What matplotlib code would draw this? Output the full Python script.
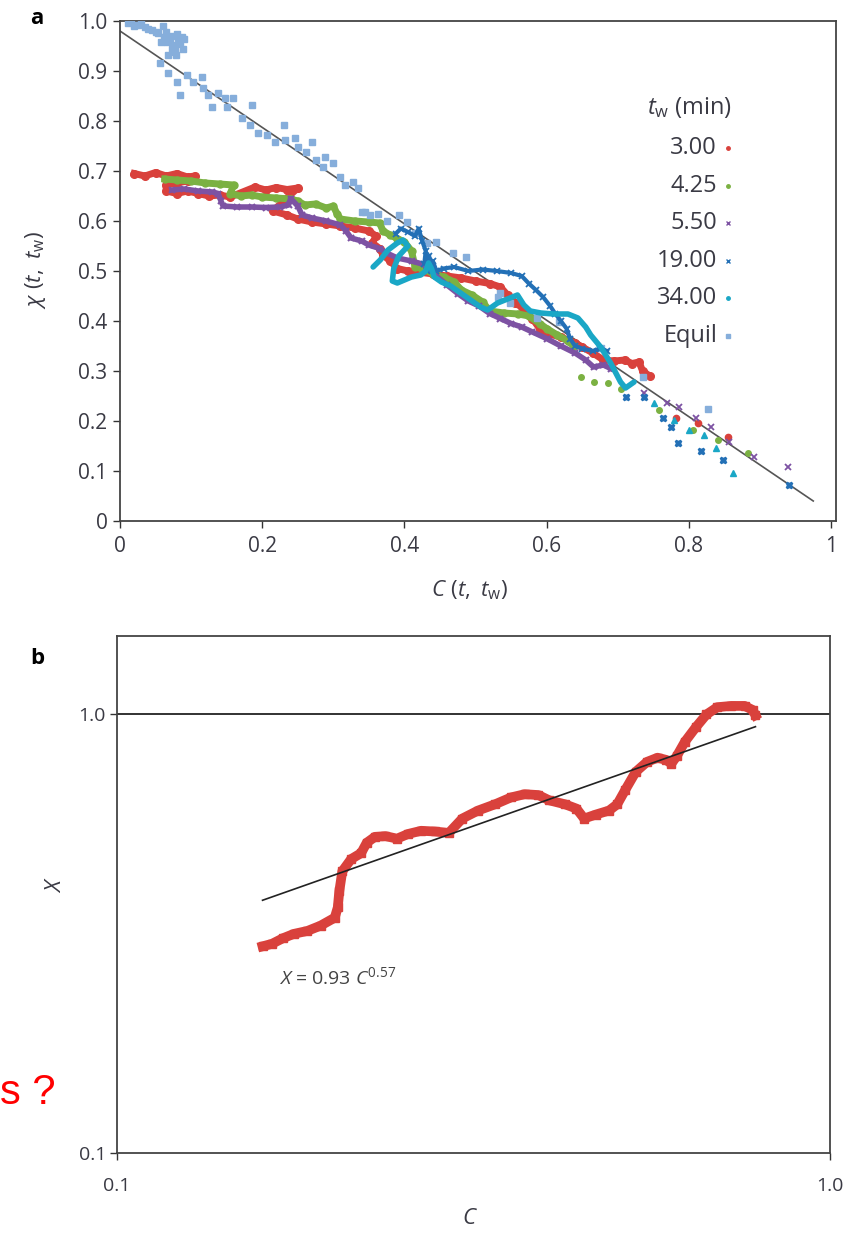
import numpy as np
import matplotlib
matplotlib.use('Agg')
import matplotlib.pyplot as plt

plt.rcParams['font.family'] = ['Open Sans', 'DejaVu Sans']
plt.rcParams['mathtext.fontset'] = 'custom'
plt.rcParams['mathtext.it'] = 'Open Sans:italic'
plt.rcParams['mathtext.rm'] = 'Open Sans'

# ---- panel a data: C(t,tw), chi(t,tw) ----
line_C = [0.0, 0.975]
line_chi = [0.98, 0.04]

red_C = [0.020, 0.035, 0.050, 0.065, 0.080, 0.095, 0.105, 0.095, 0.080, 0.065, 0.065, 0.080, 0.095,
         0.110, 0.125, 0.140, 0.155, 0.190, 0.205, 0.220, 0.235, 0.250, 0.215, 0.235, 0.250, 0.270,
         0.290, 0.310, 0.330, 0.350, 0.360, 0.355, 0.365, 0.370, 0.380, 0.390, 0.405, 0.420, 0.440,
         0.460, 0.480, 0.500, 0.520, 0.535, 0.545, 0.555, 0.565, 0.580, 0.590, 0.600, 0.620, 0.640,
         0.650, 0.665, 0.680, 0.695, 0.710, 0.720, 0.730, 0.735, 0.745]
red_chi = [0.695, 0.690, 0.697, 0.690, 0.695, 0.688, 0.690, 0.680, 0.676, 0.672, 0.660, 0.655, 0.660,
           0.655, 0.650, 0.652, 0.648, 0.668, 0.662, 0.667, 0.663, 0.666, 0.620, 0.612, 0.604, 0.598,
           0.594, 0.590, 0.586, 0.580, 0.570, 0.556, 0.545, 0.532, 0.520, 0.505, 0.500, 0.498, 0.494,
           0.490, 0.486, 0.480, 0.475, 0.468, 0.452, 0.436, 0.428, 0.405, 0.385, 0.375, 0.368, 0.356,
           0.348, 0.336, 0.322, 0.320, 0.322, 0.315, 0.318, 0.300, 0.290]
red_tail_C = [0.782, 0.813, 0.855]
red_tail_chi = [0.206, 0.196, 0.168]

green_C = [0.063, 0.080, 0.100, 0.120, 0.140, 0.160, 0.155, 0.170, 0.185, 0.200, 0.220, 0.240, 0.250,
           0.260, 0.275, 0.290, 0.300, 0.305, 0.310, 0.330, 0.350, 0.365, 0.370, 0.380, 0.390, 0.400,
           0.410, 0.415, 0.425, 0.440, 0.455, 0.470, 0.480, 0.495, 0.510, 0.520, 0.540, 0.560, 0.575,
           0.590, 0.600, 0.615, 0.630, 0.638]
green_chi = [0.684, 0.682, 0.680, 0.676, 0.674, 0.672, 0.655, 0.650, 0.652, 0.648, 0.646, 0.644, 0.640,
             0.632, 0.634, 0.626, 0.630, 0.615, 0.604, 0.600, 0.598, 0.596, 0.580, 0.572, 0.565, 0.558,
             0.540, 0.508, 0.505, 0.495, 0.488, 0.478, 0.462, 0.452, 0.438, 0.420, 0.416, 0.414, 0.410,
             0.395, 0.385, 0.372, 0.360, 0.350]
green_tail_C = [0.648, 0.666, 0.686, 0.704, 0.758, 0.806, 0.841, 0.883]
green_tail_chi = [0.288, 0.278, 0.276, 0.264, 0.222, 0.182, 0.162, 0.136]

purple_C = [0.073, 0.090, 0.110, 0.130, 0.138, 0.142, 0.145, 0.165, 0.185, 0.205, 0.225, 0.237, 0.240,
            0.250, 0.256, 0.270, 0.290, 0.310, 0.318, 0.325, 0.340, 0.350, 0.365, 0.375, 0.390, 0.410,
            0.430, 0.445, 0.460, 0.475, 0.490, 0.505, 0.520, 0.535, 0.550, 0.565, 0.580, 0.600, 0.620,
            0.640, 0.655, 0.666, 0.680, 0.690]
purple_chi = [0.662, 0.664, 0.660, 0.658, 0.655, 0.640, 0.630, 0.628, 0.628, 0.627, 0.628, 0.632, 0.645,
              0.630, 0.612, 0.606, 0.600, 0.592, 0.580, 0.566, 0.560, 0.552, 0.545, 0.536, 0.526, 0.520,
              0.512, 0.490, 0.472, 0.455, 0.440, 0.430, 0.415, 0.405, 0.395, 0.388, 0.378, 0.365, 0.350,
              0.336, 0.322, 0.308, 0.312, 0.305]
purple_tail_C = [0.737, 0.770, 0.786, 0.810, 0.831, 0.856, 0.892, 0.939]
purple_tail_chi = [0.256, 0.236, 0.228, 0.206, 0.188, 0.158, 0.128, 0.108]

blue_C = [0.388, 0.395, 0.405, 0.415, 0.420, 0.425, 0.430, 0.428, 0.435, 0.432, 0.440, 0.445, 0.455,
          0.470, 0.490, 0.510, 0.530, 0.550, 0.565, 0.575, 0.585, 0.595, 0.605, 0.612, 0.620, 0.628,
          0.633, 0.640, 0.650, 0.665, 0.675, 0.685]
blue_chi = [0.575, 0.585, 0.578, 0.570, 0.585, 0.560, 0.540, 0.515, 0.530, 0.500, 0.520, 0.500, 0.505,
            0.508, 0.500, 0.503, 0.500, 0.496, 0.490, 0.475, 0.462, 0.448, 0.430, 0.415, 0.400, 0.385,
            0.365, 0.350, 0.345, 0.340, 0.345, 0.340]
blue_tail_C = [0.711, 0.737, 0.763, 0.775, 0.785, 0.817, 0.848, 0.941]
blue_tail_chi = [0.248, 0.248, 0.206, 0.188, 0.156, 0.140, 0.122, 0.072]

teal_C = [0.356, 0.366, 0.377, 0.390, 0.398, 0.405, 0.392, 0.385, 0.383, 0.390, 0.400, 0.410, 0.423,
          0.430, 0.434, 0.438, 0.442, 0.452, 0.465, 0.480, 0.495, 0.507, 0.517, 0.531, 0.545, 0.559,
          0.568, 0.577, 0.592, 0.610, 0.630, 0.644, 0.655, 0.662, 0.676, 0.690, 0.704, 0.711, 0.723]
teal_chi = [0.508, 0.522, 0.542, 0.556, 0.562, 0.550, 0.530, 0.505, 0.480, 0.476, 0.482, 0.488, 0.492,
            0.500, 0.516, 0.505, 0.488, 0.478, 0.470, 0.455, 0.440, 0.428, 0.422, 0.436, 0.444, 0.452,
            0.432, 0.420, 0.416, 0.414, 0.414, 0.406, 0.388, 0.372, 0.348, 0.316, 0.278, 0.266, 0.278]
teal_tail_C = [0.751, 0.779, 0.800, 0.821, 0.838, 0.862]
teal_tail_chi = [0.236, 0.202, 0.182, 0.172, 0.146, 0.096]

equil_C = [0.011, 0.015, 0.025, 0.030, 0.035, 0.045, 0.054, 0.060, 0.063, 0.070, 0.075, 0.077, 0.078,
           0.080, 0.082, 0.085, 0.087, 0.090, 0.068, 0.056, 0.068, 0.080, 0.085, 0.094, 0.103, 0.115,
           0.117, 0.124, 0.130, 0.138, 0.148, 0.159, 0.151, 0.172, 0.186, 0.183, 0.194, 0.207, 0.218,
           0.230, 0.232, 0.246, 0.251, 0.261, 0.270, 0.275, 0.285, 0.289, 0.300, 0.310, 0.317, 0.327,
           0.335, 0.341, 0.345, 0.352, 0.363, 0.376, 0.392, 0.403, 0.415, 0.432, 0.444, 0.469, 0.486,
           0.532, 0.535, 0.549, 0.587, 0.617, 0.676, 0.735, 0.827,
           0.020, 0.040, 0.050, 0.065, 0.072, 0.083, 0.088, 0.066, 0.073, 0.079, 0.062, 0.058]
equil_chi = [0.996, 0.998, 0.992, 0.996, 0.988, 0.982, 0.976, 0.990, 0.968, 0.962, 0.952, 0.938, 0.945,
             0.975, 0.966, 0.955, 0.968, 0.965, 0.932, 0.916, 0.896, 0.878, 0.852, 0.892, 0.878, 0.888,
             0.866, 0.852, 0.828, 0.856, 0.846, 0.846, 0.828, 0.806, 0.832, 0.792, 0.776, 0.772, 0.758,
             0.792, 0.762, 0.766, 0.748, 0.738, 0.758, 0.722, 0.708, 0.728, 0.716, 0.688, 0.672, 0.678,
             0.666, 0.618, 0.618, 0.612, 0.614, 0.600, 0.612, 0.598, 0.576, 0.556, 0.558, 0.536, 0.528,
             0.448, 0.456, 0.436, 0.406, 0.398, 0.346, 0.288, 0.224,
             0.990, 0.985, 0.978, 0.978, 0.970, 0.958, 0.945, 0.958, 0.944, 0.932, 0.968, 0.958]

legend_labels = ['3.00', '4.25', '5.50', '19.00', '34.00', 'Equil']

# ---- panel b data: X vs C ----
b_C = [0.160, 0.165, 0.171, 0.177, 0.185, 0.193, 0.202, 0.204, 0.205, 0.207, 0.213, 0.220, 0.224,
       0.230, 0.238, 0.247, 0.256, 0.267, 0.279, 0.292, 0.305, 0.321, 0.339, 0.357, 0.373, 0.390,
       0.404, 0.425, 0.441, 0.452, 0.469, 0.490, 0.503, 0.516, 0.534, 0.554, 0.573, 0.589, 0.599,
       0.610, 0.626, 0.648, 0.671, 0.695, 0.727, 0.759, 0.779, 0.786]
b_X = [0.296, 0.300, 0.309, 0.316, 0.321, 0.330, 0.344, 0.363, 0.395, 0.439, 0.468, 0.483, 0.510,
       0.526, 0.528, 0.521, 0.534, 0.543, 0.541, 0.537, 0.579, 0.604, 0.624, 0.647, 0.658, 0.655,
       0.637, 0.624, 0.610, 0.579, 0.591, 0.604, 0.624, 0.672, 0.740, 0.780, 0.797, 0.788, 0.772,
       0.805, 0.867, 0.934, 1.000, 1.039, 1.046, 1.046, 1.024, 0.996]
fit_C = [0.160, 0.786]
fit_X = [0.377, 0.938]

red = '#d9413c'
green = '#7bb142'
purple = '#7d52a3'
blue = '#2370b6'
teal = '#1aa7c6'
light = '#86aedb'
tick_col = '#3a3a44'

W, H = 850, 1234
fig = plt.figure(figsize=(8.5, 12.34), dpi=100)

# ================= panel a =================
ax = fig.add_axes([120 / W, 1 - 521 / H, 716 / W, 500 / H])
ax.plot(line_C, line_chi, color='#555555', lw=1.2, zorder=1)
ax.plot(red_C, red_chi, '-o', color=red, lw=5, ms=5.5, zorder=2)
ax.plot(red_tail_C, red_tail_chi, 'o', color=red, ms=4.5, zorder=2)
ax.plot(green_C, green_chi, '-o', color=green, lw=5, ms=5, zorder=3)
ax.plot(green_tail_C, green_tail_chi, 'o', color=green, ms=4, zorder=3)
ax.plot(purple_C, purple_chi, '-x', color=purple, lw=4, ms=4.5, mew=1.5, zorder=4)
ax.plot(purple_tail_C, purple_tail_chi, 'x', color=purple, ms=4.5, mew=1.3, zorder=4)
ax.plot(equil_C, equil_chi, 's', color=light, ms=4, zorder=5)
ax.plot(blue_C, blue_chi, '-x', color=blue, lw=3, ms=4, mew=1.3, zorder=6)
ax.plot(blue_tail_C, blue_tail_chi, 'X', color=blue, ms=5, zorder=6)
ax.plot(teal_C, teal_chi, '-', color=teal, lw=4, zorder=7, solid_capstyle='round',
        solid_joinstyle='round')
ax.plot(teal_tail_C, teal_tail_chi, '^', color=teal, ms=4, zorder=7)

ax.set_xlim(0, 1.007)
ax.set_ylim(0, 1.0)
ax.set_xticks([0, 0.2, 0.4, 0.6, 0.8, 1.0])
ax.set_xticklabels(['0', '0.2', '0.4', '0.6', '0.8', '1'])
ax.set_yticks(np.arange(0, 11) / 10)
ax.set_yticklabels(['0'] + ['%.1f' % (i / 10) for i in range(1, 11)])
ax.tick_params(direction='out', length=5, width=1, labelsize=15, colors='#333333',
               labelcolor=tick_col, pad=4)
ax.tick_params(axis='x', pad=6)
for s in ax.spines.values():
    s.set_color('#444444')
    s.set_linewidth(1.3)

# legend as text column
cols = [red, green, purple, blue, teal, light]
marks = ['o', 'o', 'x', 'x', 'o', 's']
ys = [0.746, 0.670, 0.596, 0.520, 0.446, 0.370]
ax.text(0.736, 0.828, r'$t_\mathrm{w}$ (min)', transform=ax.transAxes, fontsize=17,
        color=tick_col, ha='left', va='center')
for lab, c, m, yy in zip(legend_labels, cols, marks, ys):
    ax.text(0.834, yy, lab, transform=ax.transAxes, fontsize=17, color=tick_col,
            ha='right', va='center')
    ax.plot([0.849], [yy], m, color=c, ms=2.5, mew=1, transform=ax.transAxes, clip_on=False)

fig.text(30 / W, 1 - 18 / H, 'a', fontsize=16, fontweight='bold', va='center', ha='left')
fig.text(35 / W, 1 - 270 / H, r'$\chi\ (t,\ t_\mathrm{w})$', rotation=90, fontsize=16,
         color=tick_col, ha='center', va='center')
fig.text(470 / W, 1 - 590 / H, r'$C\ (t,\ t_\mathrm{w})$', fontsize=16,
         color=tick_col, ha='center', va='center')

# ================= panel b =================
bx = fig.add_axes([117 / W, 1 - 1153 / H, 713 / W, 517 / H])
bx.set_xscale('log')
bx.set_yscale('log')
bx.axhline(1.0, color='#222222', lw=1.3, zorder=1)
bx.plot(fit_C, fit_X, color='#222222', lw=1.2, zorder=3)
bx.plot(b_C, b_X, '-s', color=red, lw=7, ms=6, zorder=2)
bx.set_xlim(0.1, 1.0)
bx.set_ylim(0.1, 1.51)
bx.set_xticks([0.1, 1.0])
bx.set_xticklabels(['0.1', '1.0'])
bx.set_yticks([0.1, 1.0])
bx.set_yticklabels(['0.1', '1.0'])
bx.minorticks_off()
bx.tick_params(direction='out', length=5, width=1, labelsize=14, colors='#333333',
               labelcolor=tick_col, pad=3)
bx.tick_params(axis='x', pad=12)
for s in bx.spines.values():
    s.set_color('#444444')
    s.set_linewidth(1.3)
bx.text(0.169, 0.252, r'$X$ = 0.93 $C^{0.57}$', fontsize=14, color='#444444',
        ha='left', va='center')

fig.text(30 / W, 1 - 658 / H, 'b', fontsize=16, fontweight='bold', va='center', ha='left')
fig.text(55 / W, 1 - 885 / H, r'$X$', rotation=90, fontsize=16, color=tick_col,
         ha='center', va='center')
fig.text(470 / W, 1 - 1218 / H, r'$C$', fontsize=16, color=tick_col, ha='center', va='center')
fig.text(0, 1 - 1093 / H, 's ?', fontsize=30, color='red', family='Liberation Sans',
         ha='left', va='center')

fig.savefig('out.png', dpi=100)
